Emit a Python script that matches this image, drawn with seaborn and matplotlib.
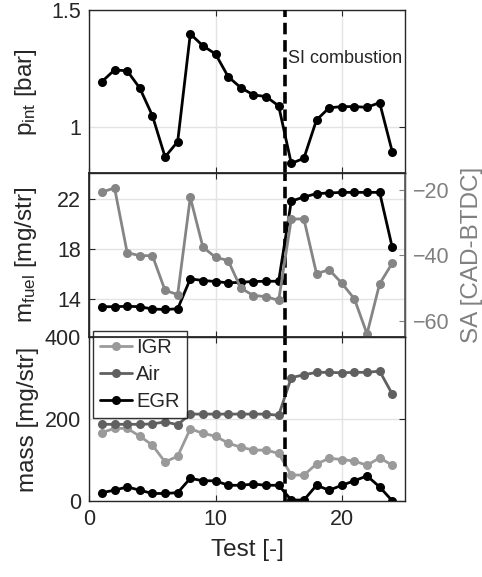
import numpy as np
import pandas as pd
import matplotlib
matplotlib.use("Agg")
import matplotlib.pyplot as plt
import seaborn as sns

# Test numbers
tests = list(range(1, 25))

# Intake pressure [bar]
p_int = [1.193, 1.243, 1.239, 1.165, 1.047, 0.871, 0.936, 1.397, 1.346, 1.311,
         1.214, 1.167, 1.136, 1.129, 1.089, 0.843, 0.865, 1.029, 1.081, 1.086,
         1.086, 1.083, 1.103, 0.893]

# Fuel mass [mg/str]
m_fuel = [13.42, 13.42, 13.45, 13.42, 13.23, 13.20, 13.25, 15.63, 15.50, 15.42,
          15.31, 15.36, 15.42, 15.44, 15.44, 21.80, 22.13, 22.40, 22.45, 22.50,
          22.50, 22.50, 22.50, 18.13]

# Spark advance [CAD-BTDC]
sa = [-20.7, -19.4, -39.2, -40.1, -40.1, -50.7, -52.0, -22.3, -37.5, -40.6,
      -41.6, -50.0, -52.3, -52.6, -53.8, -28.9, -28.9, -45.6, -44.4, -48.5,
      -53.3, -64.0, -48.7, -42.4]

# Trapped masses [mg/str]
igr = [167, 177, 177, 158, 136, 95, 109, 176, 165, 158, 141, 131, 124, 124, 116,
       63, 63, 90, 104, 101, 97, 87, 105, 87]
air = [187, 187, 187, 187, 188, 193, 186, 212, 212, 212, 212, 212, 212, 212, 209,
       301, 308, 314, 314, 313, 314, 314, 317, 261]
egr = [20, 26, 34, 26, 18, 18, 20, 55, 49, 49, 38, 38, 41, 38, 38,
       2, 2, 38, 26, 38, 49, 61, 34, 0]

si_start = 15.5

sns.set_theme(style="white")
plt.rcParams["font.family"] = ["Liberation Sans", "DejaVu Sans"]
plt.rcParams["mathtext.default"] = "regular"
plt.rcParams["axes.edgecolor"] = "#262626"
plt.rcParams["xtick.direction"] = "in"
plt.rcParams["ytick.direction"] = "in"

fig = plt.figure(figsize=(4.82, 5.77), dpi=100)
gs = fig.add_gridspec(3, 1, left=0.1853, right=0.840, top=0.983, bottom=0.132, hspace=0)
ax1 = fig.add_subplot(gs[0])
ax2 = fig.add_subplot(gs[1], sharex=ax1)
ax3 = fig.add_subplot(gs[2], sharex=ax1)

TICK_FS = 15.5
LABEL_FS = 17.5
LW = 2.0
MS = 6.5
GRID = "#e3e3e3"


def line(ax, y, color, label=None):
    sns.lineplot(x=tests, y=y, ax=ax, color=color, linewidth=LW, marker="o",
                 markersize=MS, markeredgewidth=0, label=label, legend=False)


for ax in (ax1, ax2, ax3):
    ax.grid(True, color=GRID, linewidth=1.0)
    ax.set_axisbelow(True)
    for s in ax.spines.values():
        s.set_linewidth(1.0)
        s.set_color("#262626")
    ax.tick_params(axis="both", which="both", direction="in", length=4, width=0.8,
                   labelsize=TICK_FS, colors="#262626", pad=6)
    ax.tick_params(axis="x", top=True, bottom=True)
    ax.axvline(si_start, color="black", linewidth=2.6, linestyle=(0, (3.2, 1.6)), zorder=5)

# Top: intake pressure
line(ax1, p_int, "black")
ax1.set_xlim(0, 25)
ax1.set_ylim(0.8, 1.5)
ax1.set_yticks([1, 1.5])
ax1.set_yticklabels(["1", "1.5"])
ax1.tick_params(axis="y", right=True)
ax1.set_ylabel("$p_{int}$ [bar]", fontsize=LABEL_FS, color="#262626")
ax1.text(15.75, 1.29, "SI combustion", fontsize=13, color="#262626", va="center", ha="left")
plt.setp(ax1.get_xticklabels(), visible=False)

# Middle: fuel mass and spark advance
line(ax2, m_fuel, "black")
ax2.set_ylim(11, 24)
ax2.set_yticks([14, 18, 22])
ax2.set_ylabel("$m_{fuel}$ [mg/str]", fontsize=LABEL_FS, color="#262626")
plt.setp(ax2.get_xticklabels(), visible=False)

ax2r = ax2.twinx()
line(ax2r, sa, "#858585")
ax2r.set_ylim(-65, -15)
ax2r.set_yticks([-60, -40, -20])
ax2r.tick_params(axis="y", direction="in", length=4, width=0.8, labelsize=TICK_FS,
                 colors="#808080", pad=6)
ax2r.spines["right"].set_color("#606060")
ax2r.set_ylabel("SA [CAD-BTDC]", fontsize=LABEL_FS, color="#808080", labelpad=8)
ax2r.grid(False)

# Bottom: trapped masses
line(ax3, igr, "#9a9a9a", "IGR")
line(ax3, air, "#606060", "Air")
line(ax3, egr, "black", "EGR")
ax3.set_ylim(0, 400)
ax3.set_yticks([0, 200, 400])
ax3.tick_params(axis="y", right=True)
ax3.set_xticks([0, 10, 20])
ax3.set_xlabel("Test [-]", fontsize=LABEL_FS, color="#262626", labelpad=6)
ax3.set_ylabel("mass [mg/str]", fontsize=LABEL_FS, color="#262626")
leg = ax3.legend(loc="upper left", bbox_to_anchor=(0.011, 1.036), borderaxespad=0,
                 fontsize=14.5, frameon=True, fancybox=False, handlelength=1.6,
                 handletextpad=0.2, borderpad=0.35, labelspacing=0.4)
leg.get_frame().set_edgecolor("black")
leg.get_frame().set_linewidth(1.0)
leg.set_zorder(10)

fig.align_ylabels([ax1, ax2, ax3])

fig.savefig("out.png", dpi=100)
